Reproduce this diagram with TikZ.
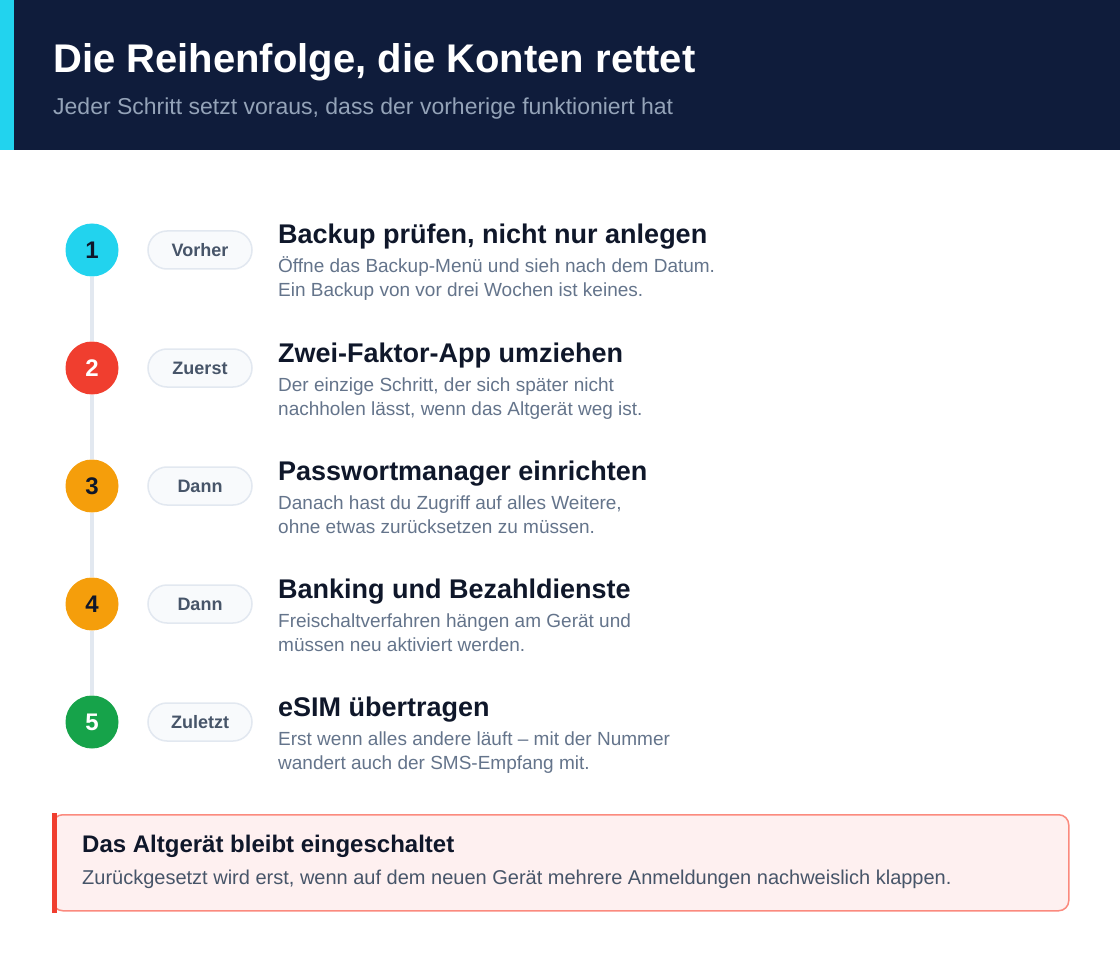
\documentclass[tikz,border=0pt]{standalone}
\usepackage{fontspec}
\setmainfont{Liberation Sans}
\usetikzlibrary{positioning,calc}

\definecolor{navy}{HTML}{0F1C3B}
\definecolor{cyanbar}{HTML}{22D3EE}
\definecolor{subgrey}{HTML}{94A3B8}
\definecolor{ink}{HTML}{0F172A}
\definecolor{muted}{HTML}{64748B}
\definecolor{rail}{HTML}{E2E8F0}
\definecolor{pillfill}{HTML}{F8FAFC}
\definecolor{pilltext}{HTML}{475569}
\definecolor{stepred}{HTML}{F03E2F}
\definecolor{steporange}{HTML}{F59E0B}
\definecolor{stepgreen}{HTML}{16A34A}
\definecolor{warnfill}{HTML}{FEF0F0}
\definecolor{warnline}{HTML}{FB8A7E}

\begin{document}
\begin{tikzpicture}[x=1pt,y=-1pt,
  numdot/.style={circle, minimum size=53pt, inner sep=0pt, font=\fontsize{24}{24}\selectfont\bfseries},
  pill/.style={rounded corners=19pt, draw=rail, line width=1.5pt, fill=pillfill, minimum width=104pt, minimum height=38pt, text=pilltext, font=\fontsize{18}{18}\selectfont\bfseries},
  steptitle/.style={anchor=base west, inner sep=0pt, text=ink, font=\fontsize{27}{27}\selectfont\bfseries},
  stepdesc/.style={anchor=base west, inner sep=0pt, text=muted, align=left, font=\fontsize{19}{24}\selectfont},
  railline/.style={rail, line width=4pt}
]
\useasboundingbox[fill=white] (0,0) rectangle (1120,960);

% header
\fill[navy] (0,0) rectangle (1120,150);
\fill[cyanbar] (0,0) rectangle (14,150);
\node[anchor=base west, inner sep=0pt, text=white, font=\fontsize{40}{40}\selectfont\bfseries] (title) at (53,73) {Die Reihenfolge, die Konten rettet};
\node[anchor=base west, inner sep=0pt, text=subgrey, font=\fontsize{23}{23}\selectfont] (subtitle) at (53,115) {Jeder Schritt setzt voraus, dass der vorherige funktioniert hat};

% steps
\foreach \n/\y/\col/\numcol/\tag/\head/\desc in {
  1/250/cyanbar/ink/Vorher/{Backup prüfen, nicht nur anlegen}/{Öffne das Backup-Menü und sieh nach dem Datum.\\Ein Backup von vor drei Wochen ist keines.},
  2/368/stepred/white/Zuerst/{Zwei-Faktor-App umziehen}/{Der einzige Schritt, der sich später nicht\\nachholen lässt, wenn das Altgerät weg ist.},
  3/486/steporange/ink/Dann/{Passwortmanager einrichten}/{Danach hast du Zugriff auf alles Weitere,\\ohne etwas zurücksetzen zu müssen.},
  4/604/steporange/ink/Dann/{Banking und Bezahldienste}/{Freischaltverfahren hängen am Gerät und\\müssen neu aktiviert werden.},
  5/722/stepgreen/white/Zuletzt/{eSIM übertragen}/{Erst wenn alles andere läuft – mit der Nummer\\wandert auch der SMS-Empfang mit.}}
{
  \node[numdot, fill=\col, text=\numcol] (c\n) at (92,\y) {\n};
  \node[pill] (p\n) at (200,\y) {\tag};
  \node[steptitle] (t\n) at (278,\y-6) {\head};
  \node[stepdesc] (d\n) at (278,\y+47) {\desc};
}

\foreach \a/\b in {1/2,2/3,3/4,4/5}
  \draw[railline] (c\a) -- (c\b);

% warning box
\node[draw=warnline, line width=1.5pt, fill=warnfill, rounded corners=10pt,
      minimum width=1016pt, minimum height=96pt, anchor=north west] (warn) at (52,814) {};
\fill[stepred] ($(warn.north west)+(0,-1)$) rectangle ($(warn.south west)+(5,1)$);
\node[anchor=base west, inner sep=0pt, text=ink, font=\fontsize{24}{24}\selectfont\bfseries] (warnhead) at (82,852) {Das Altgerät bleibt eingeschaltet};
\node[anchor=base west, inner sep=0pt, text=pilltext, font=\fontsize{20}{20}\selectfont] (warntext) at (82,884) {Zurückgesetzt wird erst, wenn auf dem neuen Gerät mehrere Anmeldungen nachweislich klappen.};
\end{tikzpicture}
\end{document}
